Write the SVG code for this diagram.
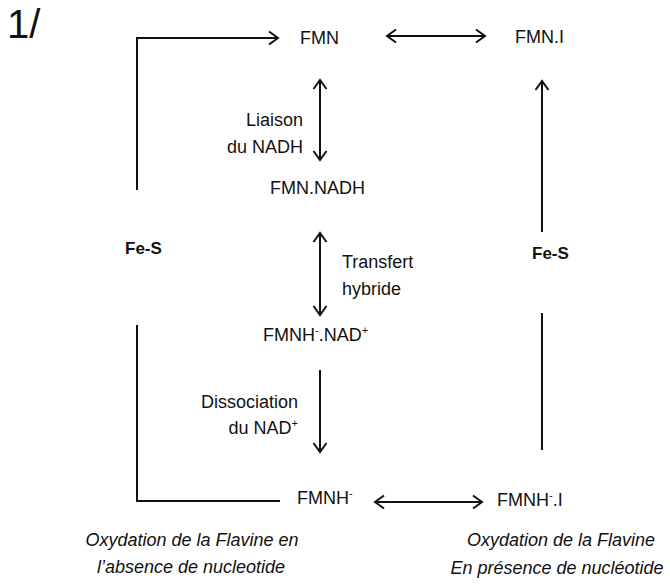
<svg xmlns="http://www.w3.org/2000/svg" width="670" height="587" viewBox="0 0 670 587">
<style>
text{font-family:"Liberation Sans",Arial,sans-serif;font-size:18px;fill:#111}
.b{font-weight:bold;font-size:17px}
.i{font-style:italic}
.m{text-anchor:middle}
.e{text-anchor:end}
.c line,.c polyline{stroke:#111;stroke-width:2;fill:none}
.sup{font-size:11px}
</style>
<defs>
<marker id="a" markerUnits="userSpaceOnUse" markerWidth="14" markerHeight="16" refX="11" refY="8" orient="auto-start-reverse">
<path d="M2,1.5 L11,8 L2,14.5" fill="none" stroke="#111" stroke-width="2"/>
</marker>
</defs>
<rect width="670" height="587" fill="#fff"/>
<text x="7" y="38" style="font-size:40px">1/</text>
<g class="c" id="connectors">
<polyline points="137,190 137,38 278,38" marker-end="url(#a)"/>
<polyline points="137,325 137,501 280,501"/>
<line x1="387" y1="36" x2="485" y2="36" marker-start="url(#a)" marker-end="url(#a)"/>
<line x1="542" y1="232" x2="542" y2="81" marker-end="url(#a)"/>
<line x1="542" y1="313" x2="542" y2="450"/>
<line x1="320" y1="80" x2="320" y2="160" marker-start="url(#a)" marker-end="url(#a)"/>
<line x1="320" y1="233" x2="320" y2="315" marker-start="url(#a)" marker-end="url(#a)"/>
<line x1="320" y1="370" x2="320" y2="452" marker-end="url(#a)"/>
<line x1="375" y1="502" x2="482" y2="502" marker-start="url(#a)" marker-end="url(#a)"/>
</g>
<g id="fmn"><text x="300" y="44">FMN</text></g>
<g id="fmni"><text x="515" y="43">FMN.I</text></g>
<g id="liaison"><text x="303" y="126" class="e">Liaison</text><text x="303" y="153" class="e">du NADH</text></g>
<g id="fmnnadh"><text x="270" y="194">FMN.NADH</text></g>
<g id="transfert"><text x="342" y="268">Transfert</text><text x="342" y="295">hybride</text></g>
<g id="fmnhnad"><text x="263" y="341">FMNH<tspan class="sup" dy="-7">-</tspan><tspan dy="7">.NAD</tspan><tspan class="sup" dy="-7">+</tspan></text></g>
<g id="dissociation"><text x="298" y="408" class="e">Dissociation</text><text x="298" y="434" class="e">du NAD<tspan class="sup" dy="-7">+</tspan></text></g>
<g id="fmnh"><text x="297" y="504">FMNH<tspan class="sup" dy="-7">-</tspan></text></g>
<g id="fmnhi"><text x="497" y="506">FMNH<tspan class="sup" dy="-7">-</tspan><tspan dy="7">.I</tspan></text></g>
<g id="fes-left"><text x="125" y="254" class="b">Fe-S</text></g>
<g id="fes-right"><text x="532" y="259" class="b">Fe-S</text></g>
<g id="caption-left"><text x="192" y="546" class="i m">Oxydation de la Flavine en</text><text x="191" y="573" class="i m">l’absence de nucleotide</text></g>
<g id="caption-right"><text x="561" y="546" class="i m">Oxydation de la Flavine</text><text x="557" y="574" class="i m">En présence de nucléotide</text></g>
</svg>
